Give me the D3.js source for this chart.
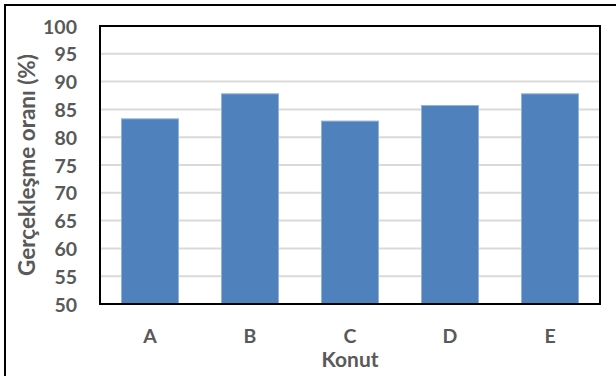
<!DOCTYPE html>
<html>
<head>
<meta charset="utf-8">
<script src="https://cdn.jsdelivr.net/npm/d3@7"></script>
<style>
  html, body { margin: 0; padding: 0; background: #fff; }
  svg { display: block; }
  text { font-family: Lato, "Open Sans", sans-serif; font-weight: 700; fill: #595959; }
</style>
</head>
<body>
<svg id="chart" width="616" height="376"></svg>
<script>
// Housing completion rates by building
const categories = ["A", "B", "C", "D", "E"];
const values = [83.3, 87.8, 82.9, 85.7, 87.8];
const yTicks = [50, 55, 60, 65, 70, 75, 80, 85, 90, 95, 100];
const yTitle = "Gerçekleşme oranı (%)";
const xTitle = "Konut";

const svg = d3.select("#chart");
const plot = { left: 100, right: 600, top: 26, bottom: 304 };

// Scale a title's font so it spans the wanted length
function fitText(sel, length) {
  const w = sel.node().getComputedTextLength();
  const fs = parseFloat(sel.style("font-size"));
  if (w > 0) sel.style("font-size", (fs * length / w).toFixed(2) + "px");
}

// Outer chart frame (runs off the right and bottom edges)
svg.append("rect")
  .attr("x", 5).attr("y", 5)
  .attr("width", 640).attr("height", 400)
  .attr("fill", "#fff").attr("stroke", "#000").attr("stroke-width", 2);

const x = d3.scaleBand()
  .domain(categories)
  .range([plot.left, plot.right])
  .paddingInner(0.43)
  .paddingOuter(0.215);

const y = d3.scaleLinear()
  .domain([50, 100])
  .range([plot.bottom, plot.top]);

// Horizontal gridlines
svg.append("g")
  .selectAll("line")
  .data(yTicks.filter(t => t > 50 && t < 100))
  .join("line")
  .attr("x1", plot.left).attr("x2", plot.right)
  .attr("y1", d => y(d)).attr("y2", d => y(d))
  .attr("stroke", "#d9d9d9").attr("stroke-width", 2);

// Bars
svg.append("g")
  .selectAll("rect")
  .data(categories.map((c, i) => ({ c, v: values[i] })))
  .join("rect")
  .attr("x", d => x(d.c))
  .attr("width", x.bandwidth())
  .attr("y", d => y(d.v))
  .attr("height", d => y(50) - y(d.v))
  .attr("fill", "#4f81bd")
  .attr("stroke", "#95b3d7")
  .attr("stroke-width", 1);

// Plot area border
svg.append("rect")
  .attr("x", plot.left).attr("y", plot.top)
  .attr("width", plot.right - plot.left)
  .attr("height", plot.bottom - plot.top)
  .attr("fill", "none").attr("stroke", "#000").attr("stroke-width", 2);

// Y axis labels
const yAxis = d3.axisLeft(y).tickValues(yTicks).tickSize(0).tickPadding(23);
const gy = svg.append("g").attr("transform", `translate(${plot.left},0)`).call(yAxis);
gy.select(".domain").remove();
gy.selectAll("text")
  .attr("dy", "0.36em")
  .style("font-size", "19.5px")
  .style("font-family", "Lato, 'Open Sans', sans-serif")
  .style("font-weight", 700)
  .attr("fill", "#595959");

// X axis labels
const xAxis = d3.axisBottom(x).tickSize(0).tickPadding(0);
const gx = svg.append("g").attr("transform", `translate(0,${plot.bottom})`).call(xAxis);
gx.select(".domain").remove();
gx.selectAll("text")
  .attr("y", 38.7).attr("dy", 0)
  .style("font-size", "19.5px")
  .style("font-family", "Lato, 'Open Sans', sans-serif")
  .style("font-weight", 700)
  .attr("fill", "#595959");

// Axis titles
const xt = svg.append("text")
  .attr("x", (plot.left + plot.right) / 2)
  .attr("y", 366.7)
  .attr("text-anchor", "middle")
  .style("font-size", "20px")
  .text(xTitle);
fitText(xt, 57);

const yt = svg.append("text")
  .attr("transform", `translate(27,${(plot.top + plot.bottom) / 2}) rotate(-90)`)
  .attr("text-anchor", "middle")
  .attr("dy", "0.36em")
  .style("font-size", "19px")
  .text(yTitle);
fitText(yt, 222);
</script>
</body>
</html>
